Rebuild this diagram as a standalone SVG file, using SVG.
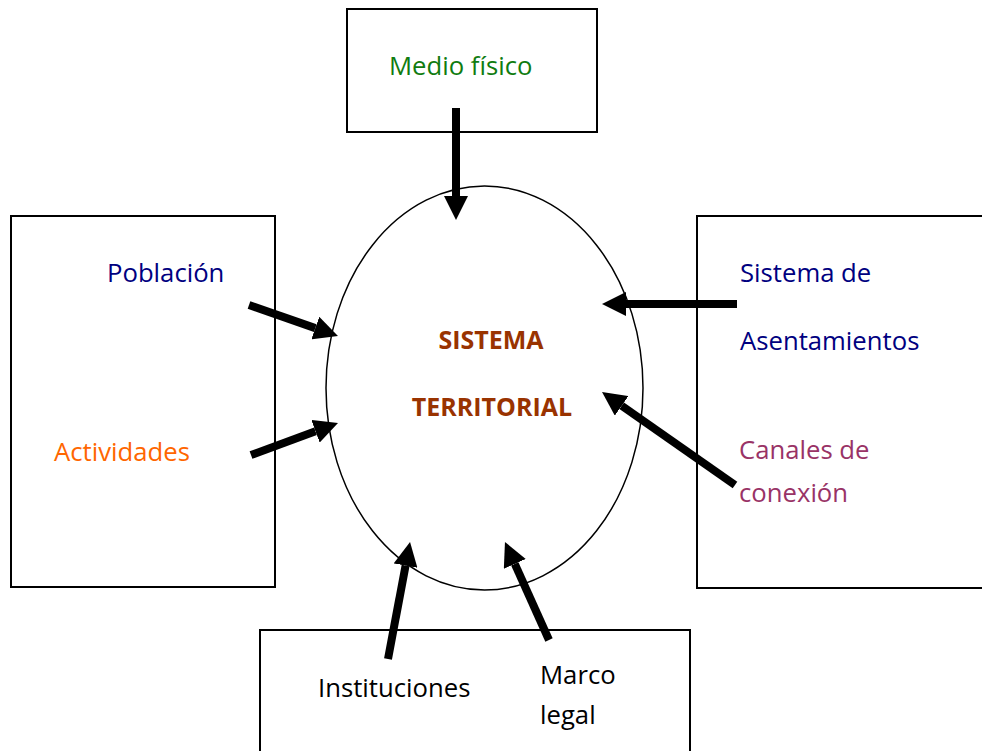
<svg xmlns="http://www.w3.org/2000/svg" width="982" height="751" viewBox="0 0 982 751">
<defs>
<marker id="ah" viewBox="0 0 10 10" refX="0" refY="5" markerWidth="3" markerHeight="3" orient="auto">
<path d="M0,0 L10,5 L0,10 z" fill="#000"/>
</marker>
<style>
.box{fill:#fff;stroke:#000;stroke-width:2}
.t{font-family:"Open Sans","Liberation Sans",sans-serif;font-size:25.7px}
.b{font-family:"Open Sans","Liberation Sans",sans-serif;font-size:25px;font-weight:bold;fill:#993300}
.arr{stroke:#000;stroke-width:8;fill:none;marker-end:url(#ah)}
</style>
</defs>
<rect width="982" height="751" fill="#fff"/>
<g id="medio">
<rect class="box" x="347" y="9" width="250" height="123"/>
<text class="t" x="389" y="75" fill="#107C10">Medio físico</text>
</g>
<g id="izquierda">
<rect class="box" x="11" y="216" width="264" height="371"/>
<text class="t" x="107" y="282" fill="#000080">Población</text>
<text class="t" x="54" y="461" fill="#FF6600">Actividades</text>
</g>
<g id="derecha">
<path class="box" d="M984,216 H697 V588 H984"/>
<text class="t" x="740" y="282" fill="#000080">Sistema de</text>
<text class="t" x="740" y="350" fill="#000080">Asentamientos</text>
<text class="t" x="739" y="459" fill="#993366">Canales de</text>
<text class="t" x="739" y="502" fill="#993366">conexión</text>
</g>
<g id="abajo">
<path class="box" d="M260,753 V630 H690 V753"/>
<text class="t" x="318" y="697" fill="#000">Instituciones</text>
<text class="t" x="540" y="684" fill="#000">Marco</text>
<text class="t" x="540" y="724" fill="#000">legal</text>
</g>
<g id="sistema">
<ellipse cx="484.5" cy="388" rx="158.5" ry="202" fill="none" stroke="#000" stroke-width="1.5"/>
<text class="b" x="491" y="349" text-anchor="middle">SISTEMA</text>
<text class="b" x="492" y="416" text-anchor="middle">TERRITORIAL</text>
</g>
<g id="conectores">
<line class="arr" x1="456" y1="108" x2="456" y2="196"/>
<line class="arr" x1="249" y1="305" x2="315.3" y2="328.1"/>
<line class="arr" x1="251" y1="455" x2="315.5" y2="431.3"/>
<line class="arr" x1="737" y1="304" x2="626" y2="304"/>
<line class="arr" x1="735" y1="485" x2="621.7" y2="405.8"/>
<line class="arr" x1="388" y1="659" x2="405.6" y2="565.6"/>
<line class="arr" x1="549" y1="640" x2="514.8" y2="563.9"/>
</g>
</svg>
